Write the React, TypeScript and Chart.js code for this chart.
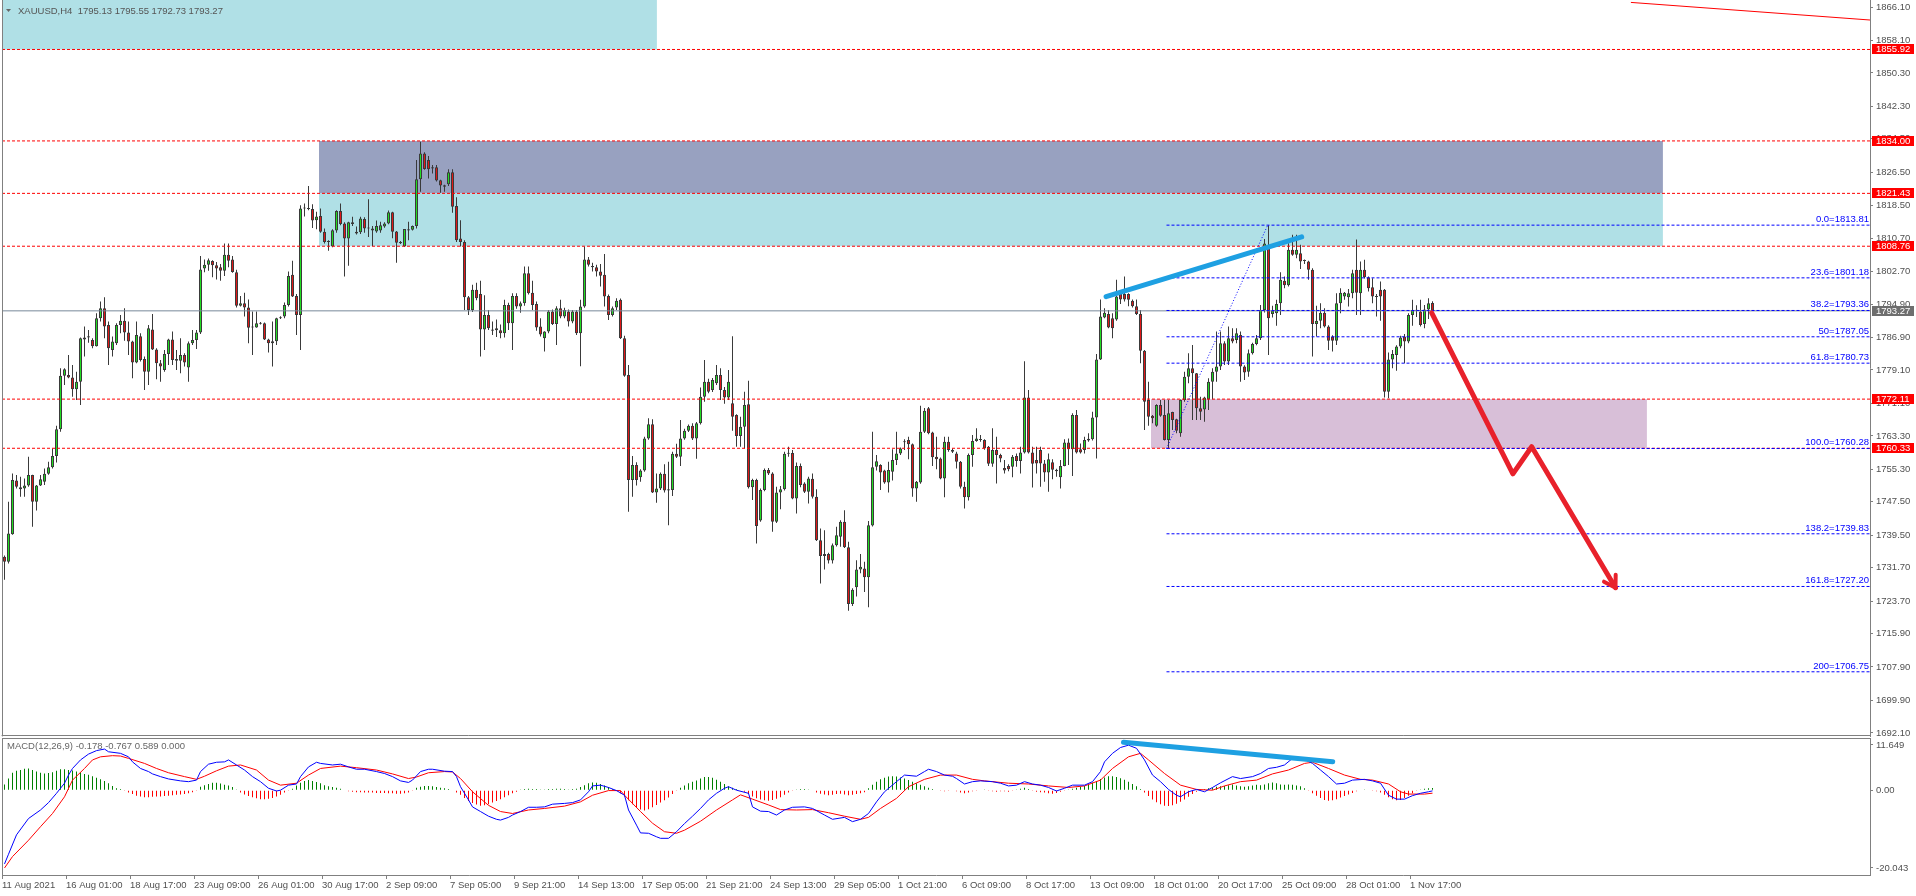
import React, { useEffect, useRef } from 'react';
import { Chart, registerables } from 'chart.js';

Chart.register(...registerables);

// ---------- DATA ----------
const symbolTitle = 'XAUUSD,H4  1795.13 1795.55 1792.73 1793.27';
const macdTitle = 'MACD(12,26,9) -0.178 -0.767 0.589 0.000';

const timeLabels = ['11 Aug 2021', '16 Aug 01:00', '18 Aug 17:00', '23 Aug 09:00', '26 Aug 01:00', '30 Aug 17:00', '2 Sep 09:00', '7 Sep 05:00', '9 Sep 21:00', '14 Sep 13:00', '17 Sep 05:00', '21 Sep 21:00', '24 Sep 13:00', '29 Sep 05:00', '1 Oct 21:00', '6 Oct 09:00', '8 Oct 17:00', '13 Oct 09:00', '18 Oct 01:00', '20 Oct 17:00', '25 Oct 09:00', '28 Oct 01:00', '1 Nov 17:00'];
const barsPerLabel = 16;

const priceTicks = [1866.10, 1858.10, 1850.30, 1842.30, 1834.50, 1826.50, 1818.50, 1810.70, 1802.70, 1794.90, 1786.90, 1779.10, 1771.10, 1763.30, 1755.30, 1747.50, 1739.50, 1731.70, 1723.70, 1715.90, 1707.90, 1699.90, 1692.10];
const priceMin = 1691.36;
const priceMax = 1867.78;
const macdTicks = [11.649, 0, -20.043];
const macdMin = -21.85;
const macdMax = 13.45;
const barMin = -0.625;
const barMax = 466.375;

const opens = [
  1734.3,1733.1,1739.7,1752.6,1751.0,1750.7,1751.4,1753.9,1747.5,1751.4,
  1752.3,1754.2,1755.8,1758.5,1764.9,1777.7,1777.9,1777.3,1774.5,1776.3,
  1786.4,1786.9,1786.3,1784.8,1791.5,1793.9,1789.9,1783.9,1785.5,1789.9,
  1790.9,1788.1,1785.9,1780.9,1787.2,1781.7,1778.7,1788.8,1784.0,1780.7,
  1779.1,1782.9,1786.4,1781.7,1781.3,1782.7,1779.7,1785.5,1786.3,1788.1,
  1803.4,1804.3,1805.2,1804.2,1803.7,1802.9,1806.7,1805.6,1802.5,1794.5,
  1795.1,1794.1,1789.5,1789.3,1790.3,1790.3,1786.4,1785.5,1786.0,1791.5,
  1791.9,1794.7,1801.9,1796.8,1792.3,1817.8,1817.8,1817.7,1815.0,1816.0,
  1812.2,1809.9,1808.7,1812.5,1817.2,1814.2,1810.6,1814.5,1812.2,1812.1,
  1815.3,1813.0,1812.5,1812.3,1812.5,1813.5,1814.2,1816.9,1812.3,1809.8,
  1808.7,1812.5,1812.7,1813.6,1824.8,1831.0,1829.4,1827.7,1827.7,1824.6,
  1823.4,1823.6,1826.5,1818.4,1810.6,1809.8,1796.5,1793.5,1798.3,1797.3,
  1788.8,1792.3,1788.8,1789.1,1788.6,1787.9,1794.7,1790.3,1796.8,1794.3,
  1795.1,1802.3,1797.6,1794.9,1789.5,1786.7,1788.3,1793.1,1790.1,1793.9,
  1791.9,1793.1,1790.7,1793.1,1787.9,1794.3,1805.6,1804.0,1803.7,1802.7,
  1801.9,1796.8,1792.3,1794.1,1795.9,1786.7,1777.9,1752.7,1756.3,1753.4,
  1755.0,1762.7,1766.1,1749.7,1750.7,1754.2,1750.2,1750.3,1759.0,1758.3,
  1762.7,1764.5,1765.7,1762.7,1766.3,1772.7,1776.3,1774.3,1775.9,1777.9,
  1774.3,1772.5,1771.1,1768.3,1763.3,1765.5,1770.9,1751.0,1752.7,1743.0,
  1750.3,1755.1,1754.3,1742.7,1749.7,1750.5,1759.0,1759.2,1748.3,1756.1,
  1751.9,1749.9,1753.0,1748.7,1738.3,1734.5,1735.0,1733.4,1737.1,1739.1,
  1742.7,1736.6,1723.0,1727.0,1731.3,1731.5,1729.4,1741.8,1755.9,1756.3,
  1755.0,1752.1,1754.7,1757.5,1759.1,1761.8,1762.3,1761.3,1750.7,1752.1,
  1764.3,1769.9,1764.1,1758.3,1757.9,1753.1,1761.9,1759.5,1759.1,1757.1,
  1751.1,1748.6,1758.7,1762.1,1762.3,1762.3,1760.7,1756.6,1759.9,1758.7,
  1755.6,1756.1,1755.9,1758.5,1757.3,1759.3,1772.5,1759.3,1757.5,1759.9,
  1756.7,1754.5,1757.0,1755.2,1753.4,1756.1,1761.7,1760.1,1768.3,1760.1,
  1759.9,1762.6,1762.5,1767.7,1781.6,1791.7,1792.5,1791.5,1791.2,1797.3,
  1797.3,1797.3,1795.7,1794.4,1792.5,1783.7,1771.9,1768.1,1765.7,1770.7,
  1768.3,1762.3,1769.0,1767.3,1763.9,1771.9,1777.5,1779.5,1778.3,1769.9,
  1769.6,1772.0,1776.3,1778.7,1779.9,1785.5,1781.1,1786.7,1786.3,1787.5,
  1779.9,1778.7,1783.1,1785.3,1786.7,1793.5,1808.6,1792.5,1792.7,1795.1,
  1800.5,1799.4,1807.9,1806.7,1807.1,1805.3,1805.1,1803.1,1790.1,1790.9,
  1792.8,1789.5,1787.1,1786.1,1795.1,1796.7,1796.5,1797.5,1803.1,1797.5,
  1803.1,1801.3,1798.9,1796.7,1798.3,1798.3,1773.9,1781.6,1782.7,1784.7,
  1787.1,1785.9,1792.3,1793.5,1793.1,1790.1,1793.6,1795.13
];
const highs = [
  1734.6,1747.5,1754.3,1753.9,1753.5,1753.1,1758.3,1754.0,1751.5,1753.9,
  1755.5,1757.1,1760.3,1765.7,1779.5,1779.5,1782.7,1780.3,1778.7,1786.9,
  1789.5,1788.7,1786.7,1792.7,1795.5,1796.5,1790.7,1787.1,1790.3,1792.3,
  1793.9,1790.7,1786.1,1790.7,1787.9,1782.3,1789.9,1792.5,1784.3,1781.5,
  1783.9,1786.6,1788.3,1783.9,1786.7,1783.1,1785.9,1788.7,1788.7,1806.4,
  1805.6,1805.8,1805.4,1805.0,1804.5,1809.4,1809.4,1806.4,1803.1,1796.8,
  1797.6,1796.0,1793.1,1793.1,1790.6,1790.5,1786.6,1790.7,1791.6,1792.0,
  1795.3,1802.7,1805.3,1797.3,1818.6,1819.0,1823.2,1818.8,1817.0,1817.8,
  1813.0,1810.2,1812.8,1817.4,1819.0,1814.5,1814.6,1815.8,1813.5,1815.8,
  1815.7,1820.0,1813.6,1814.9,1814.6,1814.5,1817.3,1817.0,1812.4,1810.0,
  1812.9,1814.6,1813.7,1829.4,1833.8,1831.3,1830.4,1828.2,1828.2,1824.7,
  1823.5,1827.2,1827.2,1820.5,1815.0,1810.2,1796.8,1799.5,1800.0,1800.5,
  1797.0,1793.5,1790.7,1791.2,1790.0,1795.9,1795.2,1797.5,1797.5,1795.5,
  1803.9,1803.9,1800.5,1795.5,1791.5,1788.4,1793.5,1793.6,1794.4,1795.9,
  1794.0,1793.6,1793.5,1793.5,1795.9,1808.7,1806.2,1804.8,1804.3,1804.5,
  1806.9,1797.2,1794.3,1796.3,1796.2,1787.3,1780.3,1758.5,1757.0,1755.3,
  1763.1,1767.5,1767.3,1754.3,1754.5,1756.5,1757.1,1759.5,1761.4,1767.1,
  1765.0,1766.0,1766.3,1766.6,1774.9,1781.5,1777.0,1777.2,1780.3,1779.5,
  1775.0,1779.1,1787.2,1768.5,1767.9,1773.9,1776.5,1753.0,1753.0,1750.7,
  1755.5,1755.6,1754.6,1751.1,1751.3,1759.5,1760.7,1759.9,1756.9,1756.7,
  1752.2,1753.5,1754.3,1750.5,1741.1,1740.7,1735.3,1737.5,1741.5,1743.1,
  1745.5,1737.9,1726.8,1733.5,1735.0,1733.1,1742.9,1764.3,1758.7,1756.5,
  1755.2,1757.1,1760.1,1764.3,1760.5,1762.5,1763.1,1761.5,1752.5,1770.5,
  1770.0,1770.2,1764.3,1763.1,1758.1,1763.1,1763.1,1760.3,1759.5,1757.3,
  1752.3,1759.1,1763.5,1765.1,1763.5,1762.5,1760.9,1765.1,1763.1,1759.0,
  1757.5,1756.5,1758.7,1759.1,1760.7,1781.2,1774.3,1760.7,1760.7,1760.7,
  1757.5,1759.1,1757.7,1755.4,1757.5,1762.5,1762.7,1768.7,1769.5,1761.5,
  1763.1,1763.9,1769.1,1782.9,1796.0,1793.9,1793.5,1792.7,1800.7,1797.4,
  1801.5,1797.5,1796.0,1796.0,1793.5,1783.9,1776.3,1768.3,1770.9,1771.9,
  1771.9,1771.9,1769.1,1767.4,1772.0,1778.7,1783.1,1785.1,1778.4,1772.7,
  1772.7,1777.1,1779.5,1788.3,1788.3,1786.0,1789.5,1789.1,1789.1,1788.3,
  1780.2,1784.0,1785.6,1787.5,1794.7,1810.5,1813.8,1794.5,1795.9,1802.5,
  1801.5,1809.5,1811.5,1811.5,1809.1,1805.6,1805.3,1803.5,1794.5,1795.1,
  1793.9,1789.8,1787.4,1797.5,1798.7,1797.8,1798.5,1803.1,1810.4,1805.1,
  1805.5,1801.5,1801.1,1797.3,1800.3,1798.5,1783.3,1783.9,1785.0,1787.3,
  1787.7,1792.7,1795.9,1794.6,1795.9,1794.7,1796.3,1795.55
];
const lows = [
  1728.8,1732.7,1739.6,1750.7,1748.7,1748.7,1751.1,1741.5,1745.4,1751.3,
  1751.5,1754.0,1755.5,1756.9,1764.3,1775.5,1777.1,1772.7,1771.9,1770.7,
  1782.3,1785.6,1784.3,1784.7,1790.7,1786.7,1780.3,1782.3,1785.1,1787.9,
  1786.1,1782.7,1777.1,1780.7,1781.1,1774.3,1775.5,1783.9,1776.9,1776.3,
  1778.7,1780.3,1780.3,1779.1,1778.3,1779.9,1776.3,1785.1,1784.1,1787.7,
  1802.5,1802.9,1801.3,1800.8,1800.5,1801.6,1803.7,1802.4,1794.1,1794.3,
  1791.9,1785.5,1782.7,1789.2,1790.0,1786.3,1783.3,1779.9,1785.1,1791.3,
  1791.5,1794.3,1796.6,1787.5,1783.9,1815.9,1817.4,1813.1,1812.8,1812.0,
  1809.4,1807.7,1808.5,1812.0,1813.8,1801.5,1804.1,1813.6,1811.6,1811.7,
  1812.0,1811.0,1808.8,1812.0,1812.0,1813.2,1814.0,1810.7,1804.8,1809.3,
  1808.6,1810.2,1812.5,1813.0,1821.8,1827.1,1825.0,1826.2,1824.3,1821.6,
  1821.8,1823.2,1816.8,1809.8,1808.7,1793.5,1792.3,1793.0,1795.8,1782.3,
  1783.9,1788.7,1787.5,1787.0,1786.7,1786.9,1788.7,1783.9,1793.8,1792.8,
  1794.5,1797.2,1793.5,1788.5,1787.1,1783.5,1787.9,1789.9,1785.1,1791.5,
  1791.5,1789.5,1790.3,1787.5,1780.0,1794.0,1803.9,1802.7,1801.5,1799.1,
  1794.3,1791.1,1791.9,1793.5,1786.5,1777.5,1745.1,1748.7,1751.4,1752.3,
  1754.7,1762.4,1749.6,1747.3,1750.3,1749.7,1741.9,1748.9,1758.0,1756.1,
  1762.4,1764.2,1762.3,1757.8,1766.0,1771.5,1773.5,1773.8,1775.5,1771.9,
  1771.0,1771.9,1764.5,1760.7,1760.7,1760.3,1750.7,1747.9,1737.5,1742.7,
  1750.0,1753.9,1740.3,1742.4,1745.7,1750.2,1758.3,1748.1,1744.7,1751.0,
  1749.6,1747.1,1748.3,1738.1,1727.9,1731.3,1732.7,1732.7,1736.8,1736.7,
  1736.4,1721.4,1722.5,1724.8,1730.4,1725.9,1722.2,1741.6,1755.0,1750.3,
  1751.8,1749.7,1752.6,1756.3,1758.7,1759.9,1757.7,1748.7,1747.5,1751.8,
  1764.0,1763.7,1756.1,1755.3,1752.9,1748.6,1759.5,1759.2,1755.5,1750.7,
  1745.9,1747.8,1755.9,1761.9,1761.9,1760.0,1756.1,1755.9,1751.9,1757.0,
  1754.3,1754.8,1753.4,1755.9,1754.3,1759.1,1759.1,1750.9,1754.3,1751.1,
  1752.3,1749.9,1752.9,1753.5,1750.7,1756.0,1756.3,1753.7,1759.1,1759.1,
  1759.1,1761.9,1762.2,1757.9,1781.5,1791.5,1789.1,1786.7,1790.9,1794.9,
  1795.5,1794.4,1794.1,1792.3,1780.7,1764.7,1765.7,1766.3,1765.5,1767.9,
  1762.2,1760.3,1764.7,1763.9,1763.1,1771.5,1775.9,1767.1,1767.1,1767.1,
  1766.7,1769.5,1772.1,1776.3,1779.1,1780.3,1780.3,1785.5,1785.5,1776.3,
  1776.7,1777.5,1782.8,1785.0,1786.3,1792.9,1782.7,1791.7,1789.7,1792.3,
  1798.7,1799.1,1806.5,1805.9,1803.3,1804.5,1800.7,1782.3,1787.1,1789.1,
  1789.3,1783.9,1783.5,1785.1,1792.7,1795.9,1794.3,1796.3,1792.3,1792.3,
  1801.0,1797.9,1795.1,1791.9,1790.9,1772.5,1772.3,1779.5,1778.9,1784.3,
  1780.7,1785.5,1789.7,1791.8,1789.5,1789.1,1791.3,1792.73
];
const closes = [
  1733.1,1739.9,1752.7,1751.1,1750.5,1751.4,1753.9,1747.5,1751.4,1752.9,
  1754.2,1755.8,1758.5,1764.9,1777.7,1779.3,1777.3,1774.5,1776.3,1786.7,
  1786.9,1787.2,1784.8,1791.5,1793.9,1789.5,1784.3,1785.9,1789.9,1790.9,
  1788.1,1785.9,1780.9,1787.5,1781.5,1778.7,1789.1,1784.0,1780.7,1779.9,
  1782.9,1786.4,1781.5,1781.3,1782.7,1780.9,1785.5,1786.3,1788.1,1803.2,
  1804.3,1805.4,1804.2,1803.4,1802.9,1806.7,1805.3,1802.6,1794.5,1795.1,
  1794.1,1789.2,1789.3,1790.3,1790.2,1786.4,1785.5,1786.0,1791.5,1791.7,
  1794.7,1801.6,1796.7,1792.3,1817.8,1818.0,1817.7,1814.9,1815.9,1812.2,
  1809.8,1809.8,1812.6,1817.2,1814.1,1810.6,1814.5,1814.1,1811.8,1815.4,
  1813.0,1813.1,1813.0,1813.6,1813.8,1814.2,1816.9,1812.2,1809.6,1809.5,
  1812.9,1812.8,1813.6,1824.8,1831.0,1827.3,1827.2,1827.4,1824.5,1823.3,
  1823.0,1826.5,1818.2,1810.2,1809.8,1796.5,1793.5,1798.3,1796.3,1788.8,
  1792.3,1789.1,1788.5,1788.6,1787.9,1794.7,1790.3,1796.8,1794.3,1795.1,
  1802.3,1797.5,1794.7,1789.3,1787.6,1788.3,1793.1,1790.1,1793.9,1791.9,
  1793.5,1790.7,1793.1,1787.9,1794.3,1805.6,1804.3,1803.7,1802.7,1801.7,
  1796.7,1792.3,1793.9,1795.7,1786.7,1777.7,1752.7,1756.3,1752.7,1755.0,
  1762.7,1766.1,1749.7,1750.7,1754.2,1750.2,1750.5,1759.0,1758.3,1762.7,
  1764.5,1765.7,1762.7,1766.3,1772.7,1776.3,1773.9,1776.7,1777.9,1774.3,
  1772.5,1776.3,1767.9,1763.3,1765.5,1770.7,1751.0,1752.7,1741.7,1750.3,
  1755.1,1754.3,1742.7,1749.7,1750.5,1759.0,1759.2,1748.3,1756.1,1751.5,
  1749.9,1753.1,1748.7,1738.3,1734.5,1735.0,1733.4,1737.1,1739.5,1742.7,
  1736.6,1723.0,1726.4,1731.3,1731.9,1729.4,1741.9,1755.8,1757.2,1754.5,
  1752.1,1755.1,1757.5,1759.1,1760.3,1761.9,1761.3,1750.7,1752.3,1764.3,
  1769.3,1763.9,1758.2,1757.7,1753.1,1761.9,1759.9,1759.9,1757.1,1751.1,
  1748.6,1758.7,1762.1,1762.7,1762.5,1760.3,1756.6,1759.9,1758.7,1757.9,
  1755.0,1755.3,1758.3,1757.3,1759.3,1772.5,1759.3,1756.6,1756.7,1756.7,
  1754.5,1757.7,1755.2,1754.8,1756.1,1761.7,1760.1,1768.3,1759.3,1759.3,
  1762.3,1762.2,1767.7,1781.6,1791.9,1792.8,1789.3,1789.1,1796.7,1796.0,
  1796.0,1795.9,1794.4,1792.5,1783.7,1771.5,1767.9,1767.5,1770.7,1768.1,
  1762.3,1768.7,1767.1,1764.5,1771.9,1777.5,1779.5,1778.3,1769.9,1769.1,
  1772.5,1776.3,1778.7,1779.9,1785.5,1781.1,1786.7,1785.9,1787.9,1779.9,
  1778.5,1783.1,1785.3,1786.7,1793.5,1809.4,1791.5,1793.3,1794.9,1800.7,
  1799.4,1807.9,1806.7,1807.9,1805.1,1805.2,1803.1,1790.1,1790.9,1792.8,
  1789.5,1786.1,1786.1,1795.1,1797.6,1797.6,1797.5,1802.3,1797.6,1803.1,
  1801.3,1798.7,1796.7,1796.6,1796.7,1773.9,1781.6,1782.9,1784.7,1786.9,
  1785.9,1792.3,1793.5,1793.3,1789.9,1793.6,1795.1,1793.27
];

const macdBars = [0,1,3,6,9,11,13,15,16,17,19,21,23,25,26,29,31,32,34,36,37,39,41,44,46,48,49,51,53,55,56,58,60,62,64,66,68,69,71,73,74,76,78,79,82,84,86,88,90,93,95,97,99,101,102,104,106,107,110,112,113,114,116,117,119,121,123,124,126,127,129,131,133,135,137,140,142,144,146,147,149,151,153,155,156,158,159,161,163,164,166,168,170,172,174,176,178,180,181,183,186,187,189,191,193,195,197,200,202,205,207,210,212,214,216,218,220,223,225,228,230,231,233,235,237,238,240,242,244,247,249,251,253,255,257,259,261,263,265,267,270,272,274,275,277,279,281,283,285,287,289,291,293,294,296,298,300,302,304,307,309,312,314,316,318,320,322,325,327,329,331,333,335,337,340,342,344,346,348,350,352,354,356,357];
const macdVals = [-19.0,-16.5,-11.5,-7.3,-5.1,-3.2,-0.8,1.8,3.9,5.6,7.8,9.3,10.2,10.6,9.9,9.5,8.6,7.3,5.6,4.8,4.2,3.5,2.9,2.4,2.2,2.6,4.8,6.7,7.2,7.3,7.8,6.5,5.2,3.5,2.2,0.5,-0.2,0.0,1.3,1.6,3.5,6.0,7.2,6.9,6.5,6.7,6.0,5.4,5.4,4.8,4.3,3.5,2.4,2.0,2.6,4.8,5.4,5.4,4.9,4.8,3.5,0.9,-2.5,-4.3,-5.5,-6.7,-7.5,-7.7,-7.0,-6.4,-5.5,-4.4,-4.4,-4.3,-3.6,-3.4,-3.2,-2.5,-0.4,1.1,1.3,0.7,-0.1,-1.3,-5.1,-9.0,-11.0,-11.1,-12.0,-12.4,-12.4,-10.7,-8.6,-6.7,-4.7,-2.5,-0.8,0.5,0.9,0.0,-0.8,-4.3,-5.4,-5.5,-6.4,-5.1,-4.4,-4.3,-4.7,-6.4,-7.5,-7.0,-8.1,-7.5,-6.0,-3.0,-0.4,2.2,3.9,3.6,4.8,5.4,4.8,3.9,3.6,3.0,1.6,2.2,2.4,2.2,1.8,1.1,1.3,2.2,1.6,1.3,0.7,-0.2,0.5,1.3,1.3,2.2,4.8,7.3,9.5,11.0,11.6,10.8,7.8,3.9,2.2,0.2,-1.3,-1.7,-0.4,0.2,-0.4,0.7,1.9,3.5,3.0,3.5,4.3,5.6,5.9,6.5,8.2,7.9,6.9,5.2,3.5,1.6,1.8,2.6,2.8,2.4,1.8,-1.3,-2.3,-2.3,-1.4,-0.8,-0.4,-0.178];

const signalBars = [0,2,6,9,12,15,17,20,22,24,27,29,31,35,38,41,45,48,50,53,56,59,63,66,69,73,76,79,84,88,93,97,101,103,106,110,112,114,117,121,124,127,131,135,140,144,147,151,154,155,159,162,165,168,170,174,178,182,184,187,191,194,198,202,206,210,214,216,219,223,226,230,234,238,242,245,251,256,261,266,270,274,277,281,284,286,290,294,298,302,305,309,313,317,321,325,327,331,335,339,342,346,349,351,355,357];
const signalVals = [-20.04,-17.1,-12.9,-9.4,-6.0,-1.7,2.6,5.6,7.8,8.6,8.9,8.8,8.2,6.9,5.6,4.5,3.5,2.8,3.6,5.0,6.2,6.5,5.2,2.6,1.3,1.8,3.9,5.6,6.2,5.8,5.2,4.2,3.0,3.4,4.5,4.8,4.7,3.0,-0.4,-3.9,-5.5,-6.0,-5.1,-4.7,-4.1,-3.0,-1.3,-0.1,-0.1,-1.3,-5.5,-8.5,-10.7,-11.1,-10.3,-8.0,-5.1,-2.5,-1.2,-2.3,-3.8,-5.0,-5.1,-5.0,-5.8,-6.7,-7.5,-7.0,-4.7,-2.1,0.9,2.8,3.9,3.9,2.8,2.4,1.8,1.6,1.1,0.7,1.1,2.6,5.6,8.6,9.5,7.8,4.3,1.3,0.2,0.0,1.1,2.2,2.6,4.2,5.2,6.9,7.2,5.6,3.9,2.8,2.6,1.6,-0.4,-1.0,-1.0,-0.767];

const histVals = [
  1.5,3.0,4.5,5.0,5.2,5.5,5.6,5.2,4.8,4.5,
  4.3,4.4,4.6,5.0,5.4,5.4,5.2,5.1,4.8,4.6,
  4.2,4.0,3.6,3.2,2.8,2.4,1.8,1.1,0.5,0.3,
  -0.1,-0.6,-1.0,-1.4,-1.6,-1.8,-1.8,-1.7,-1.6,-1.6,
  -1.5,-1.4,-1.3,-1.2,-1.1,-1.0,-0.8,-0.5,-0.2,0.9,
  1.3,1.6,1.9,1.9,1.7,1.4,1.2,0.8,0.2,-0.6,
  -1.1,-1.5,-1.8,-2.1,-2.3,-2.3,-2.2,-2.0,-1.6,-1.2,
  -0.6,-0.1,0.4,1.2,1.9,2.4,2.6,2.4,2.1,1.8,
  1.3,1.0,0.8,0.6,0.4,0.1,-0.3,-0.4,-0.5,-0.5,
  -0.6,-0.6,-0.6,-0.7,-0.7,-0.7,-0.8,-0.8,-0.9,-0.9,
  -0.8,-0.6,-0.2,0.6,0.9,1.1,1.1,1.0,0.8,0.6,
  0.5,0.3,0.1,-0.6,-1.2,-2.0,-2.8,-3.3,-3.7,-4.0,
  -3.9,-3.6,-3.2,-2.8,-2.3,-1.8,-1.3,-0.8,-0.4,0.2,
  0.3,0.4,0.3,0.3,0.2,0.2,0.3,0.3,0.4,0.4,
  0.3,0.2,0.3,0.4,0.8,1.3,1.8,2.0,1.9,1.6,
  1.2,0.8,0.3,-0.2,-0.8,-1.6,-2.6,-3.6,-4.4,-5.0,
  -5.2,-4.9,-4.4,-3.8,-3.2,-2.6,-1.9,-1.0,-0.2,0.6,
  1.2,1.8,2.2,2.5,3.0,3.4,3.4,3.2,2.7,2.2,
  1.6,1.0,0.6,0.3,0.1,-0.4,-1.0,-1.6,-2.1,-2.4,
  -2.6,-2.7,-2.5,-2.2,-1.8,-1.2,-0.6,-0.2,0.2,0.3,
  0.3,0.2,0.1,-0.6,-0.9,-1.1,-1.3,-1.2,-1.0,-0.9,
  -1.1,-1.3,-1.2,-1.0,-0.8,-0.5,0.5,1.4,2.2,2.8,
  3.2,3.5,3.6,3.5,3.3,3.0,2.6,2.2,1.8,1.4,
  1.0,0.6,0.3,0.1,-0.2,-0.3,-0.2,0.1,-0.3,-0.6,
  -0.8,-0.6,-0.3,-0.2,0.1,0.2,-0.2,-0.3,-0.4,-0.3,
  -0.3,-0.4,-0.2,0.2,0.4,0.6,0.3,-0.2,-0.4,-0.5,
  -0.6,-0.8,-0.9,-0.7,-0.4,-0.2,0.2,0.4,0.6,0.9,
  1.1,1.4,1.9,2.4,2.9,3.3,3.6,3.6,3.4,3.1,
  2.7,2.2,1.6,1.0,0.3,-0.6,-1.5,-2.4,-3.1,-3.6,
  -4.0,-4.1,-3.9,-3.5,-3.0,-2.4,-1.7,-1.0,-0.4,0.2,
  0.3,0.5,0.7,0.9,1.0,1.1,1.3,1.5,1.2,1.0,
  0.9,1.0,1.2,1.4,1.3,1.5,1.8,2.0,1.8,1.5,
  1.4,1.5,1.4,1.2,1.0,0.5,-0.2,-0.8,-1.4,-2.0,
  -2.5,-2.7,-2.6,-2.3,-1.9,-1.5,-1.1,-0.7,-0.3,0.1,
  0.2,0.1,-0.1,-0.3,-0.6,-1.2,-1.8,-2.3,-2.6,-2.5,
  -2.0,-1.4,-0.8,-0.2,0.2,0.4,0.5,0.589
];

// horizontal levels and objects
const levelPrices = [1855.92, 1834.00, 1821.43, 1808.76, 1772.11, 1760.33];
const bidPrice = 1793.27;
const fibNames = ['0.0', '23.6', '38.2', '50', '61.8', '100.0', '138.2', '161.8', '200'];
const fibPrices = [1813.81, 1801.18, 1793.36, 1787.05, 1780.73, 1760.28, 1739.83, 1727.20, 1706.75];
const fibStartBar = 290.5;
const fibDiagBars = [290.5, 315.8];
const fibDiagPrices = [1760.28, 1813.81];
const trendBars = [275.4, 324.3];
const trendPrices = [1796.66, 1811.0];
const arrowBars = [356.8, 377.1, 381.8, 402.75];
const arrowPrices = [1792.8, 1754.2, 1760.7, 1726.9];
const topLineBars = [406.6, 466.4];
const topLinePrices = [1867.2, 1862.98];
const zoneStart = [-0.625, 78.6, 78.6, 286.6];
const zoneEnd = [163.1, 414.6, 414.6, 410.6];
const zoneTop = [1868.5, 1834.00, 1821.43, 1772.11];
const zoneBottom = [1855.92, 1821.43, 1808.76, 1760.33];
const macdTrendBars = [279.75, 332.05];
const macdTrendVals = [12.35, 7.35];

// ---------- STYLES ----------
const FONT = "'Liberation Sans', Arial, sans-serif";
const FS = 9.5;
const axisText = '#505050';
const frameColor = '#808080';
const zoneColors = ['#b0e0e6', '#98a1c0', '#b0e0e6', '#d8bfd8'];
const bullColor = '#22dd22';
const bearColor = '#e01818';
const candleEdge = '#3a3a3a';

const pts = (xs: number[], ys: number[]) => xs.map((x, i) => ({ x, y: ys[i] }));

const lineDs = (data: any[], color: string, width: number, dash: number[] = [], cap = 'butt') => ({
  type: 'line',
  data,
  borderColor: color,
  borderWidth: width,
  borderDash: dash,
  borderCapStyle: cap,
  borderJoinStyle: 'round',
  pointRadius: 0,
  fill: false,
  tension: 0,
});

const noPadV = (s: any) => { s.width = 46; s.paddingTop = 0; s.paddingBottom = 0; };
const noPadH = (s: any) => { s.height = 21; s.paddingLeft = 0; s.paddingRight = 0; };

function mainConfig(): any {
  const bodyData = opens.map((o, i) => ({ x: i, y: [o, closes[i]] }));
  const wickData = highs.map((h, i) => ({ x: i, y: [lows[i], h] }));
  const bodyColors = opens.map((o, i) => (closes[i] >= o ? bullColor : bearColor));

  const zoneSets = zoneStart.map((s, i) => ({
    type: 'line',
    data: [{ x: s, y: zoneTop[i] }, { x: zoneEnd[i], y: zoneTop[i] }],
    borderWidth: 0,
    borderColor: 'rgba(0,0,0,0)',
    backgroundColor: zoneColors[i],
    pointRadius: 0,
    fill: { value: zoneBottom[i] },
    tension: 0,
  }));

  const datasets: any[] = [
    lineDs(pts(arrowBars, arrowPrices), '#e8212b', 5, [], 'round'),
    lineDs(pts(trendBars, trendPrices), '#1ea0e2', 5, [], 'round'),
    lineDs(pts(fibDiagBars, fibDiagPrices), '#0000ff', 1, [1, 2]),
    ...fibPrices.map((p) => lineDs([{ x: fibStartBar, y: p }, { x: barMax, y: p }], '#0000ff', 1, [3, 2])),
    lineDs(pts(topLineBars, topLinePrices), '#ff0000', 1),
    lineDs([{ x: barMin, y: bidPrice }, { x: barMax, y: bidPrice }], '#778899', 1),
    ...levelPrices.map((p) => lineDs([{ x: barMin, y: p }, { x: barMax, y: p }], '#ff0000', 1, [3, 2])),
    {
      type: 'bar',
      data: bodyData,
      backgroundColor: bodyColors,
      borderColor: candleEdge,
      borderWidth: 1,
      borderSkipped: false,
      grouped: false,
      barThickness: 3,
      maxBarThickness: 3,
      minBarLength: 1,
      inflateAmount: 0,
    },
    {
      type: 'bar',
      data: wickData,
      backgroundColor: candleEdge,
      borderWidth: 0,
      grouped: false,
      barThickness: 1,
      maxBarThickness: 1,
      minBarLength: 1,
      inflateAmount: 0,
    },
    ...zoneSets,
  ];

  const decor = {
    id: 'mainDecor',
    afterDatasetsDraw(chart: any) {
      const { ctx, chartArea: a, scales } = chart;
      const xs = scales.x;
      const ys = scales.y;
      ctx.save();
      // arrow head
      const n = arrowBars.length;
      const x1 = xs.getPixelForValue(arrowBars[n - 2]);
      const y1 = ys.getPixelForValue(arrowPrices[n - 2]);
      const x2 = xs.getPixelForValue(arrowBars[n - 1]);
      const y2 = ys.getPixelForValue(arrowPrices[n - 1]);
      const ang = Math.atan2(y2 - y1, x2 - x1);
      ctx.strokeStyle = '#e8212b';
      ctx.lineWidth = 4;
      ctx.lineCap = 'round';
      ctx.beginPath();
      [-1, 1].forEach((s) => {
        ctx.moveTo(x2, y2);
        ctx.lineTo(x2 - 13 * Math.cos(ang + s * 0.55), y2 - 13 * Math.sin(ang + s * 0.55));
      });
      ctx.stroke();
      // fib labels
      ctx.font = `${FS}px ${FONT}`;
      ctx.fillStyle = '#0000ff';
      ctx.textAlign = 'right';
      ctx.textBaseline = 'bottom';
      fibPrices.forEach((p, i) => {
        ctx.fillText(`${fibNames[i]}=${p.toFixed(2)}`, a.right - 1, ys.getPixelForValue(p) - 1);
      });
      // frame
      ctx.strokeStyle = frameColor;
      ctx.lineWidth = 1;
      ctx.beginPath();
      ctx.moveTo(a.left + 0.5, a.top);
      ctx.lineTo(a.left + 0.5, a.bottom);
      ctx.moveTo(a.left, a.bottom - 0.5);
      ctx.lineTo(a.right, a.bottom - 0.5);
      ctx.stroke();
      // title
      ctx.fillStyle = '#666666';
      ctx.beginPath();
      ctx.moveTo(6, 9);
      ctx.lineTo(11, 9);
      ctx.lineTo(8.5, 12);
      ctx.closePath();
      ctx.fill();
      ctx.fillStyle = '#555555';
      ctx.textAlign = 'left';
      ctx.textBaseline = 'middle';
      ctx.fillText(symbolTitle, 18, 11);
      ctx.restore();
    },
    afterDraw(chart: any) {
      const { ctx, chartArea: a, scales } = chart;
      const ys = scales.y;
      ctx.save();
      ctx.font = `${FS}px ${FONT}`;
      ctx.textAlign = 'left';
      ctx.textBaseline = 'middle';
      const tag = (price: number, bg: string) => {
        const py = Math.round(ys.getPixelForValue(price));
        ctx.fillStyle = bg;
        ctx.fillRect(a.right + 2, py - 5, 42, 10);
        ctx.fillStyle = '#ffffff';
        ctx.fillText(price.toFixed(2), a.right + 6, py + 0.5);
      };
      levelPrices.forEach((p) => tag(p, '#ff0000'));
      tag(bidPrice, '#6e6e6e');
      ctx.restore();
    },
  };

  return {
    type: 'bar',
    data: { datasets },
    plugins: [decor],
    options: {
      animation: false,
      responsive: false,
      devicePixelRatio: 1,
      events: [],
      layout: { autoPadding: false, padding: { left: 2, right: 0, top: 0, bottom: 1 } },
      plugins: { legend: { display: false }, tooltip: { enabled: false }, title: { display: false } },
      scales: {
        x: { type: 'linear', display: false, min: barMin, max: barMax, offset: false, grid: { offset: false } },
        y: {
          type: 'linear',
          position: 'right',
          min: priceMin,
          max: priceMax,
          beginAtZero: false,
          afterBuildTicks: (s: any) => { s.ticks = priceTicks.map((v) => ({ value: v })); },
          afterFit: noPadV,
          ticks: {
            autoSkip: false,
            padding: 3,
            color: axisText,
            font: { family: FONT, size: FS },
            callback: (v: any) => Number(v).toFixed(2),
          },
          grid: { drawOnChartArea: false, drawTicks: true, tickLength: 3, color: frameColor },
          border: { display: true, color: frameColor },
        },
      },
    },
  };
}

function macdConfig(): any {
  const histData = histVals.map((v, i) => ({ x: i, y: v }));
  const histColors = histVals.map((v) => (v >= 0 ? '#008000' : '#ff0000'));
  const datasets: any[] = [
    lineDs(pts(macdTrendBars, macdTrendVals), '#1ea0e2', 5, [], 'round'),
    lineDs(pts(macdBars, macdVals), '#0000ff', 1),
    lineDs(pts(signalBars, signalVals), '#ff0000', 1),
    {
      type: 'bar',
      data: histData,
      backgroundColor: histColors,
      borderWidth: 0,
      grouped: false,
      barThickness: 1,
      maxBarThickness: 1,
      inflateAmount: 0,
    },
  ];
  const decor = {
    id: 'macdDecor',
    afterDatasetsDraw(chart: any) {
      const { ctx, chartArea: a } = chart;
      ctx.save();
      ctx.strokeStyle = frameColor;
      ctx.lineWidth = 1;
      ctx.beginPath();
      ctx.moveTo(a.left + 0.5, a.top);
      ctx.lineTo(a.left + 0.5, a.bottom);
      ctx.moveTo(a.left, a.top + 0.5);
      ctx.lineTo(a.right, a.top + 0.5);
      ctx.stroke();
      ctx.font = `${FS}px ${FONT}`;
      ctx.fillStyle = '#666666';
      ctx.textAlign = 'left';
      ctx.textBaseline = 'middle';
      ctx.fillText(macdTitle, 7, 9);
      ctx.restore();
    },
  };
  return {
    type: 'bar',
    data: { datasets },
    plugins: [decor],
    options: {
      animation: false,
      responsive: false,
      devicePixelRatio: 1,
      events: [],
      layout: { autoPadding: false, padding: { left: 2, right: 0, top: 1, bottom: 0 } },
      plugins: { legend: { display: false }, tooltip: { enabled: false }, title: { display: false } },
      scales: {
        x: {
          type: 'linear',
          min: barMin,
          max: barMax,
          offset: false,
          afterBuildTicks: (s: any) => { s.ticks = timeLabels.map((_, k) => ({ value: barMin + k * barsPerLabel })); },
          afterFit: noPadH,
          ticks: {
            autoSkip: false,
            maxRotation: 0,
            minRotation: 0,
            align: 'start',
            padding: 1,
            color: axisText,
            font: { family: FONT, size: FS },
            callback: (_v: any, i: number) => timeLabels[i],
          },
          grid: { drawOnChartArea: false, drawTicks: true, tickLength: 4, color: frameColor, offset: false },
          border: { display: true, color: frameColor },
        },
        y: {
          type: 'linear',
          position: 'right',
          min: macdMin,
          max: macdMax,
          beginAtZero: false,
          afterBuildTicks: (s: any) => { s.ticks = macdTicks.map((v) => ({ value: v })); },
          afterFit: noPadV,
          ticks: {
            autoSkip: false,
            padding: 3,
            color: axisText,
            font: { family: FONT, size: FS },
            callback: (v: any) => (Number(v) === 0 ? '0.00' : Number(v).toFixed(3)),
          },
          grid: { drawOnChartArea: false, drawTicks: true, tickLength: 3, color: frameColor },
          border: { display: true, color: frameColor },
        },
      },
    },
  };
}

export default function App() {
  const mainRef = useRef<HTMLCanvasElement>(null);
  const macdRef = useRef<HTMLCanvasElement>(null);
  useEffect(() => {
    const c1 = new Chart(mainRef.current as HTMLCanvasElement, mainConfig());
    const c2 = new Chart(macdRef.current as HTMLCanvasElement, macdConfig());
    return () => {
      c1.destroy();
      c2.destroy();
    };
  }, []);
  return (
    <div style={{ position: 'fixed', left: 0, top: 0, width: 1916, height: 896, background: '#ffffff', overflow: 'hidden' }}>
      <canvas ref={mainRef} width={1916} height={737} style={{ position: 'absolute', left: 0, top: 0, width: 1916, height: 737 }} />
      <canvas ref={macdRef} width={1916} height={159} style={{ position: 'absolute', left: 0, top: 737, width: 1916, height: 159 }} />
    </div>
  );
}
